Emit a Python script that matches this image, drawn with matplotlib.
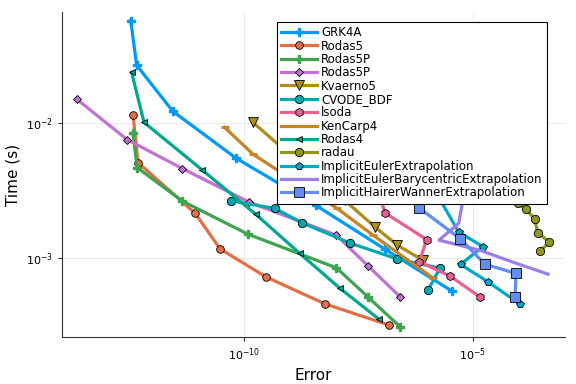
import matplotlib
matplotlib.use("Agg")
import matplotlib.pyplot as plt
from matplotlib.ticker import FixedLocator, NullLocator

# error / time for each solver
grk4a_err = [10**-12.47, 10**-12.34, 10**-11.55, 10**-10.17, 10**-8.43, 10**-6.92, 10**-5.46]
grk4a_t = [0.0571, 0.0267, 0.0122, 0.0055, 0.00247, 0.00117, 0.000575]

rodas5_err = [10**-12.42, 10**-12.31, 10**-11.06, 10**-10.52, 10**-9.52, 10**-8.23, 10**-6.83]
rodas5_t = [0.01153, 0.0051, 0.00215, 0.001178, 0.000731, 0.000462, 0.000322]

rodas5p_err = [10**-12.42, 10**-12.33, 10**-11.34, 10**-9.91, 10**-7.98, 10**-7.29, 10**-6.59]
rodas5p_t = [0.00844, 0.00469, 0.00265, 0.00151, 0.000853, 0.000519, 0.000313]

rodas5p2_err = [10**-13.65, 10**-12.55, 10**-11.34, 10**-9.89, 10**-7.98, 10**-7.29, 10**-6.59]
rodas5p2_t = [0.01503, 0.00755, 0.00461, 0.00261, 0.001486, 0.000881, 0.000521]

kvaerno5_err = [10**-9.81, 10**-9.15, 10**-8.47, 10**-7.80, 10**-7.14, 10**-6.65, 10**-6.09]
kvaerno5_t = [0.01016, 0.0065, 0.00419, 0.00269, 0.00171, 0.001253, 0.00097]

cvode_err = [10**-10.27, 10**-9.32, 10**-8.74, 10**-7.69, 10**-6.65, 10**-5.72, 10**-5.98]
cvode_t = [0.00266, 0.00234, 0.00184, 0.001302, 0.000991, 0.000849, 0.000583]

lsoda_err = [10**-7.12, 10**-6.92, 10**-6.01, 10**-6.17, 10**-5.50, 10**-4.85]
lsoda_t = [0.00366, 0.00217, 0.00138, 0.000946, 0.000741, 0.000521]

kencarp4_err = [10**-10.42, 10**-9.80, 10**-8.89, 10**-7.97, 10**-7.18, 10**-5.87]
kencarp4_t = [0.00929, 0.00588, 0.00372, 0.00235, 0.001486, 0.000716]

rodas4_err = [10**-12.45, 10**-12.18, 10**-10.92, 10**-9.74, 10**-8.78, 10**-7.90, 10**-7.05]
rodas4_t = [0.02366, 0.01012, 0.00453, 0.00212, 0.001089, 0.000601, 0.000356]

radau_err = [10**-4.01, 10**-3.84, 10**-3.65, 10**-3.59, 10**-3.33, 10**-3.53]
radau_t = [0.002546, 0.002317, 0.00195, 0.00155, 0.001325, 0.001132]

iee_err = [10**-5.90, 10**-5.31, 10**-4.78, 10**-5.27, 10**-4.67, 10**-3.97]
iee_t = [0.00348, 0.001563, 0.001225, 0.000904, 0.000672, 0.00046]

ieb_err = [10**-5.24, 10**-5.31, 10**-5.74, 10**-4.85, 10**-4.13, 10**-3.36]
ieb_t = [0.00247, 0.00182, 0.001365, 0.00115, 0.00094, 0.000766]

ihw_err = [10**-6.18, 10**-5.28, 10**-4.74, 10**-4.06, 10**-4.08]
ihw_t = [0.00237, 0.0014, 0.000908, 0.000775, 0.000521]

fig, ax = plt.subplots(figsize=(5.76, 3.84), dpi=100)
fig.subplots_adjust(left=62/576, right=565/576, top=1-12/384, bottom=1-337/384)

lw = 2.3
edge = dict(markeredgecolor="black", markeredgewidth=0.6)

ax.plot(grk4a_err, grk4a_t, color="#009AFA", lw=lw, marker="P", ms=6, mec="#009AFA", label="GRK4A")
ax.plot(rodas5_err, rodas5_t, color="#E36F47", lw=lw, marker="o", ms=5.5, **edge, label="Rodas5")
ax.plot(rodas5p_err, rodas5p_t, color="#3EA44E", lw=lw, marker="P", ms=6, mec="#3EA44E", label="Rodas5P")
ax.plot(rodas5p2_err, rodas5p2_t, color="#C371D2", lw=lw, marker="D", ms=4.5, **edge, label="Rodas5P")
ax.plot(kvaerno5_err, kvaerno5_t, color="#AC8E18", lw=lw, marker="v", ms=6.5, **edge, label="Kvaerno5")
ax.plot(cvode_err, cvode_t, color="#00AAAE", lw=lw, marker="o", ms=6, **edge, label="CVODE_BDF")
ax.plot(lsoda_err, lsoda_t, color="#ED5E93", lw=lw, marker="h", ms=6, **edge, label="lsoda")
ax.plot(kencarp4_err, kencarp4_t, color="#C68225", lw=lw, marker="_", ms=6, mew=2, label="KenCarp4")
ax.plot(rodas4_err, rodas4_t, color="#00A98D", lw=lw, marker="<", ms=4, **edge, label="Rodas4")
ax.plot(radau_err, radau_t, color="#8E971E", lw=lw, marker="o", ms=6, **edge, label="radau")
ax.plot(iee_err, iee_t, color="#00A8CB", lw=lw, marker="p", ms=6, **edge, label="ImplicitEulerExtrapolation")
ax.plot(ieb_err, ieb_t, color="#9B7FE9", lw=lw, label="ImplicitEulerBarycentricExtrapolation")
ax.plot(ihw_err, ihw_t, color="#618DF6", lw=lw, marker="s", ms=6.5, **edge, label="ImplicitHairerWannerExtrapolation")

ax.set_xscale("log")
ax.set_yscale("log")
ax.set_xlim(10**-13.97, 10**-2.99)
ax.set_ylim(10**-3.58, 10**-1.18)

ax.xaxis.set_major_locator(FixedLocator([1e-10, 1e-5]))
ax.yaxis.set_major_locator(FixedLocator([1e-2, 1e-3]))
ax.xaxis.set_minor_locator(NullLocator())
ax.yaxis.set_minor_locator(NullLocator())
ax.set_xticklabels([r"$10^{-10}$", r"$10^{-5}$"])
ax.set_yticklabels([r"$10^{-2}$", r"$10^{-3}$"])
ax.tick_params(labelsize=8, length=3, width=0.8, color="#333333")

ax.grid(True, color="#e8e8e8", lw=0.6)
ax.spines["top"].set_visible(False)
ax.spines["right"].set_visible(False)
for s in ["left", "bottom"]:
    ax.spines[s].set_color("#333333")

ax.set_xlabel("Error", fontsize=11)
ax.set_ylabel("Time (s)", fontsize=11)

leg = ax.legend(loc="upper right", bbox_to_anchor=(0.964, 0.969), borderaxespad=0,
                fontsize=8.5, labelspacing=0.03, handlelength=3.0, handletextpad=0.4,
                borderpad=0.35, fancybox=False, framealpha=1)
leg.get_frame().set_edgecolor("black")
leg.get_frame().set_linewidth(0.8)

plt.savefig("out.png", dpi=100)
